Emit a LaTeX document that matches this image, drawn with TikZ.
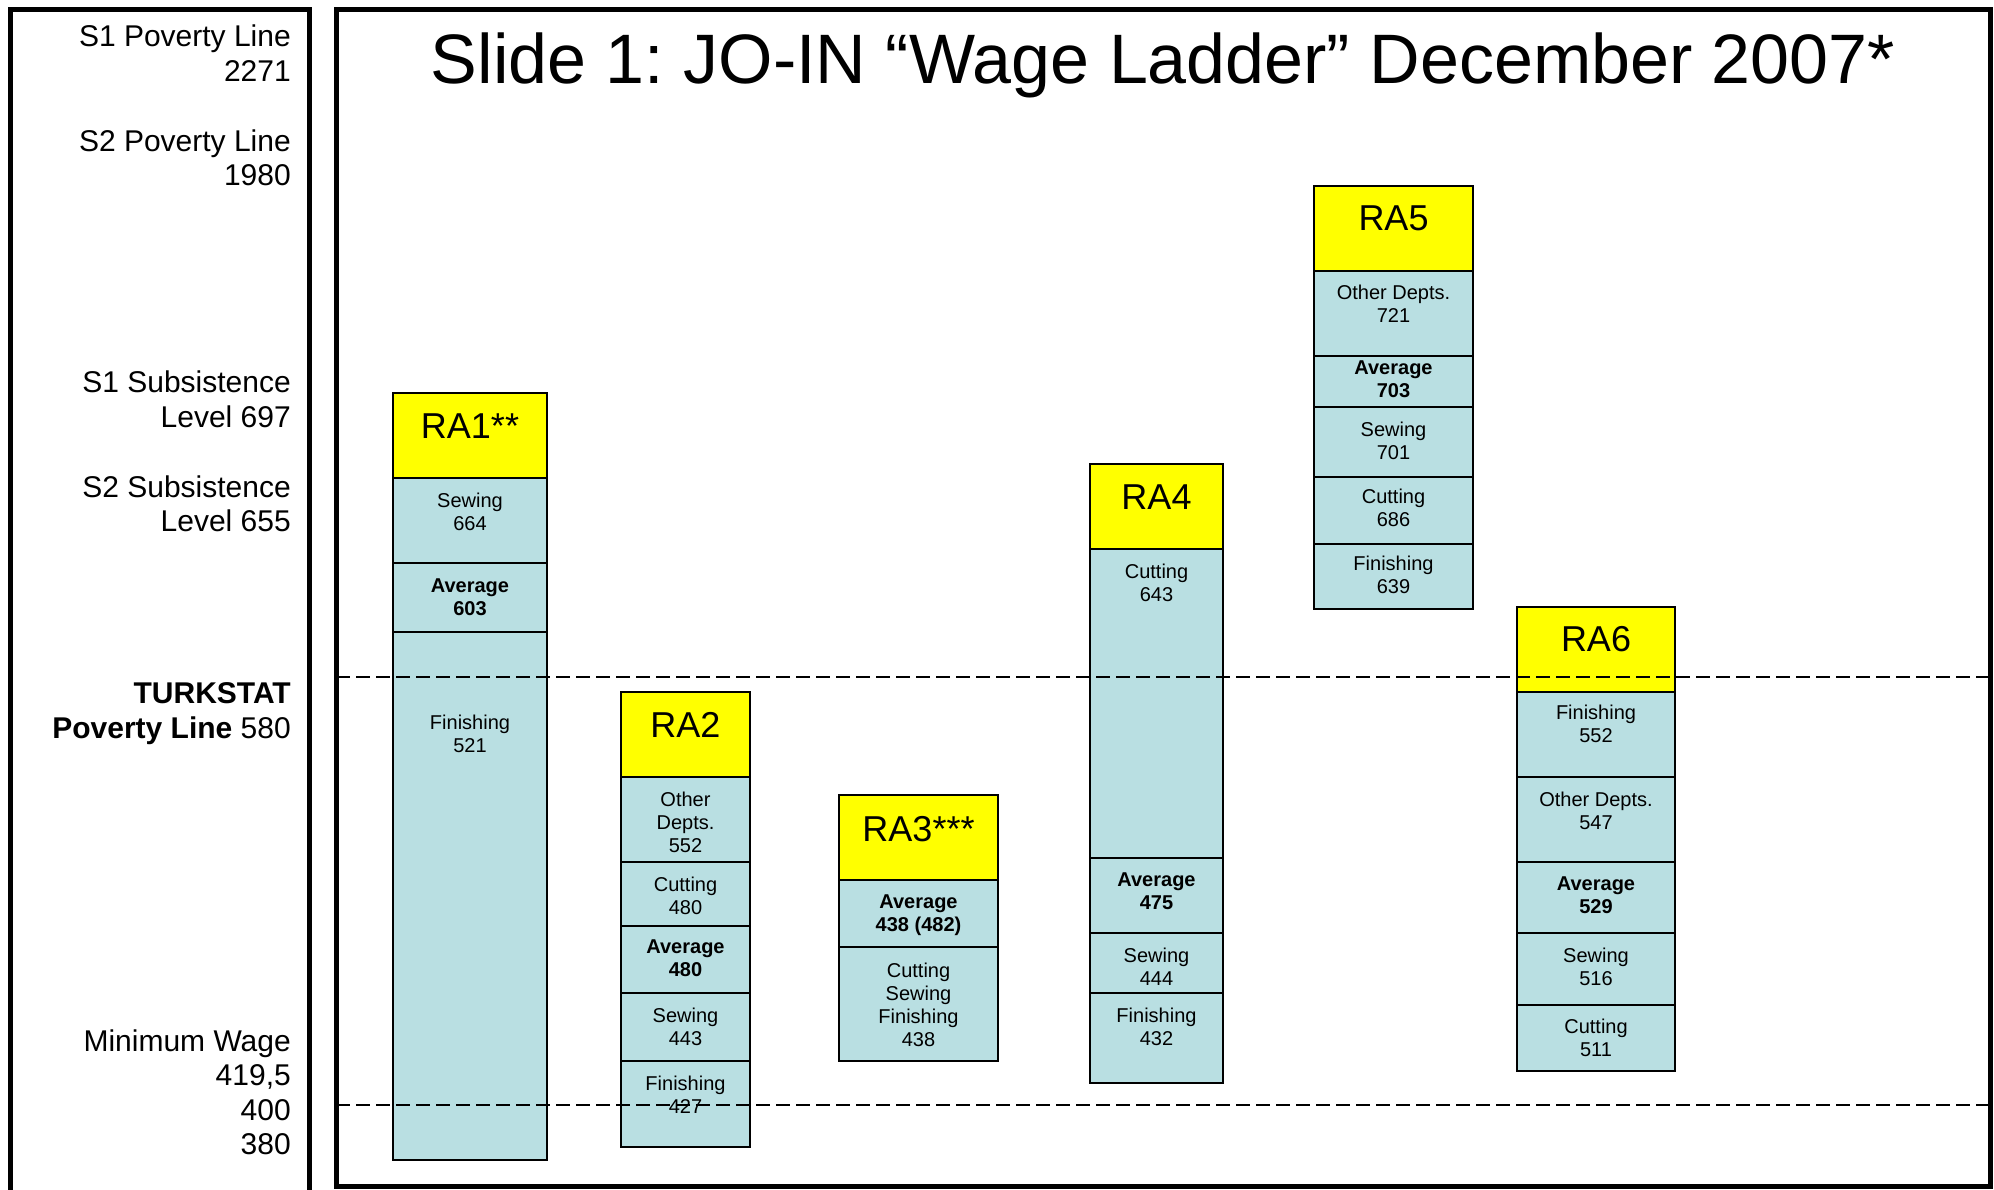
\documentclass[tikz,border=0pt]{standalone}
\usepackage{fontspec}
\setmainfont{Liberation Sans}
\frenchspacing
\definecolor{hdr}{RGB}{255,255,0}
\definecolor{cel}{RGB}{185,223,226}
\newcommand\wcell[5]{\draw[cellline,fill=#5] (#1,#3) rectangle (#2,#4);}
\begin{document}
\begin{tikzpicture}[x=1pt,y=-1pt,
  cellline/.style={line width=2pt,draw=black},
  celltxt/.style={inner sep=0pt,align=center,anchor=north,font=\fontsize{20}{23}\selectfont},
  hdrtxt/.style={inner sep=0pt,anchor=base,font=\fontsize{36}{40}\selectfont},
  lefttxt/.style={inner sep=0pt,align=right,anchor=north east,font=\fontsize{30}{34.4}\selectfont},
  frame/.style={line width=5pt,draw=black},
  refline/.style={line width=2pt,dash pattern=on 14pt off 6pt}]
\useasboundingbox (0,0) rectangle (1994,1189);
\fill[white] (0,0) rectangle (1994,1189);

% ---- RA1
\wcell{393}{547}{393}{478}{hdr}
\wcell{393}{547}{478}{563}{cel}
\wcell{393}{547}{563}{632}{cel}
\wcell{393}{547}{632}{1160}{cel}
\node[hdrtxt] (ra1) at (470,438) {RA1**};
\node[celltxt] (ra1s) at (470,492.5) {Sewing\\664};
\node[celltxt] (ra1a) at (470,578.5) {\textbf{Average}\\\textbf{603}};
\node[celltxt] (ra1f) at (470,714.5) {Finishing\\521};

% ---- RA2
\wcell{621}{750}{692}{777}{hdr}
\wcell{621}{750}{777}{862}{cel}
\wcell{621}{750}{862}{926}{cel}
\wcell{621}{750}{926}{993}{cel}
\wcell{621}{750}{993}{1061}{cel}
\wcell{621}{750}{1061}{1147}{cel}
\node[hdrtxt] (ra2) at (685.5,737) {RA2};
\node[celltxt] (ra2o) at (685.5,791.5) {Other\\Depts.\\552};
\node[celltxt] (ra2c) at (685.5,876.5) {Cutting\\480};
\node[celltxt] (ra2a) at (685.5,939.5) {\textbf{Average}\\\textbf{480}};
\node[celltxt] (ra2s) at (685.5,1007.5) {Sewing\\443};
\node[celltxt] (ra2f) at (685.5,1075.5) {Finishing\\427};

% ---- RA3
\wcell{839}{998}{795}{880}{hdr}
\wcell{839}{998}{880}{947}{cel}
\wcell{839}{998}{947}{1061}{cel}
\node[hdrtxt] (ra3) at (918.5,841) {RA3***};
\node[celltxt] (ra3a) at (918.5,894.5) {\textbf{Average}\\\textbf{438 (482)}};
\node[celltxt] (ra3c) at (918.5,962.5) {Cutting\\Sewing\\Finishing\\438};

% ---- RA4
\wcell{1090}{1223}{464}{549}{hdr}
\wcell{1090}{1223}{549}{858}{cel}
\wcell{1090}{1223}{858}{933}{cel}
\wcell{1090}{1223}{933}{993}{cel}
\wcell{1090}{1223}{993}{1083}{cel}
\node[hdrtxt] (ra4) at (1156.5,509) {RA4};
\node[celltxt] (ra4c) at (1156.5,563.5) {Cutting\\643};
\node[celltxt] (ra4a) at (1156.5,872.5) {\textbf{Average}\\\textbf{475}};
\node[celltxt] (ra4s) at (1156.5,947.5) {Sewing\\444};
\node[celltxt] (ra4f) at (1156.5,1007.5) {Finishing\\432};

% ---- RA5
\wcell{1314}{1473}{186}{271}{hdr}
\wcell{1314}{1473}{271}{356}{cel}
\wcell{1314}{1473}{356}{407}{cel}
\wcell{1314}{1473}{407}{477}{cel}
\wcell{1314}{1473}{477}{544}{cel}
\wcell{1314}{1473}{544}{609}{cel}
\node[hdrtxt] (ra5) at (1393.5,230) {RA5};
\node[celltxt] (ra5o) at (1393.5,284.5) {Other Depts.\\721};
\node[celltxt] (ra5a) at (1393.5,360.5) {\textbf{Average}\\\textbf{703}};
\node[celltxt] (ra5s) at (1393.5,421.5) {Sewing\\701};
\node[celltxt] (ra5c) at (1393.5,488.5) {Cutting\\686};
\node[celltxt] (ra5f) at (1393.5,555.5) {Finishing\\639};

% ---- RA6
\wcell{1517}{1675}{607}{692}{hdr}
\wcell{1517}{1675}{692}{777}{cel}
\wcell{1517}{1675}{777}{862}{cel}
\wcell{1517}{1675}{862}{933}{cel}
\wcell{1517}{1675}{933}{1005}{cel}
\wcell{1517}{1675}{1005}{1071}{cel}
\node[hdrtxt] (ra6) at (1596,651) {RA6};
\node[celltxt] (ra6f) at (1596,704.5) {Finishing\\552};
\node[celltxt] (ra6o) at (1596,791.5) {Other Depts.\\547};
\node[celltxt] (ra6a) at (1596,876.5) {\textbf{Average}\\\textbf{529}};
\node[celltxt] (ra6s) at (1596,947.5) {Sewing\\516};
\node[celltxt] (ra6c) at (1596,1018.5) {Cutting\\511};

% ---- reference lines
\coordinate (t1) at (336,677);
\coordinate (t2) at (1994,677);
\coordinate (m1) at (336,1105);
\coordinate (m2) at (1994,1105);
\draw[refline] (t1) -- (t2);
\draw[refline] (m1) -- (m2);

% ---- title
\node[inner sep=0pt,anchor=base,font=\fontsize{70}{80}\selectfont] (title) at (1163,83)
  {Slide 1: JO-IN “Wage Ladder” December 2007*};

% ---- left labels
\node[lefttxt] (l1) at (291,25) {S1 Poverty Line\\2271};
\node[lefttxt] (l2) at (291,129.5) {S2 Poverty Line\\1980};
\node[lefttxt] (l3) at (291,371) {S1 Subsistence\\Level 697};
\node[lefttxt] (l4) at (291,475.5) {S2 Subsistence\\Level 655};
\node[lefttxt] (l5) at (291,682.5) {\textbf{TURKSTAT}\\\textbf{Poverty Line} 580};
\node[lefttxt] (l6) at (291,1029.5) {Minimum Wage\\419,5\\400\\380};

% ---- frames
\draw[frame] (10,1195) -- (10,9) -- (309,9) -- (309,1195);
\draw[frame] (336,9) rectangle (1990,1186);
\end{tikzpicture}
\end{document}
